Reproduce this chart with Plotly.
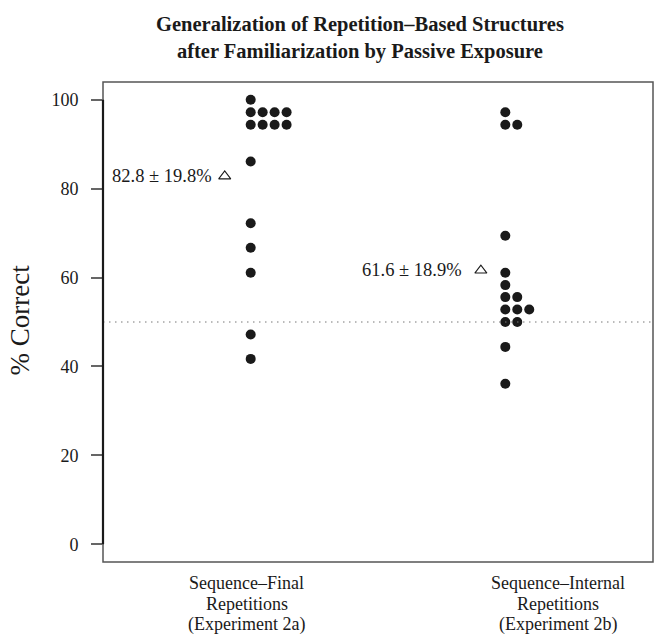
import plotly.graph_objects as go
from collections import Counter

# ---- data ----
title_lines = ["Generalization of Repetition–Based Structures",
               "after Familiarization by Passive Exposure"]
group_labels = [["Sequence–Final", "Repetitions", "(Experiment 2a)"],
                ["Sequence–Internal", "Repetitions", "(Experiment 2b)"]]
scores_2a = [100, 97.2, 97.2, 97.2, 97.2, 94.4, 94.4, 94.4, 94.4,
             86.1, 72.2, 66.7, 61.1, 47.2, 41.7]
scores_2b = [97.2, 94.4, 94.4, 69.4, 61.1, 58.3, 55.6, 55.6,
             52.8, 52.8, 52.8, 50, 50, 44.4, 36.1]
means = [82.8, 61.6]
mean_labels = ["82.8 ± 19.8%", "61.6 ± 18.9%"]
chance = 50
y_ticks = [0, 20, 40, 60, 80, 100]
y_title = "% Correct"

# ---- layout constants ----
FONT = "Liberation Serif"
INK = "#1a1a1a"
group_x = [1, 2]
dx = 0.047            # horizontal step between tied dots
tri_off = [-0.102, -0.096]
txt_off = [-0.146, -0.162]
label_x = [0.985, 2.207]
label_line_y = [-0.044, -0.0875, -0.131]   # paper coords of label lines

fig = go.Figure()

xs, ys = [], []
for gx, scores in zip(group_x, [scores_2a, scores_2b]):
    seen = Counter()
    for v in scores:
        xs.append(gx + seen[v] * dx)
        ys.append(v)
        seen[v] += 1

fig.add_trace(go.Scatter(x=xs, y=ys, mode="markers",
                         marker=dict(size=10, color=INK, line=dict(width=0)),
                         hoverinfo="skip", showlegend=False))

fig.add_trace(go.Scatter(x=[g + o for g, o in zip(group_x, tri_off)], y=means,
                         mode="markers",
                         marker=dict(symbol="triangle-up-open", size=10.5,
                                     color=INK, line=dict(width=1.1, color=INK)),
                         hoverinfo="skip", showlegend=False))

for g, o, m, lab in zip(group_x, txt_off, means, mean_labels):
    fig.add_annotation(x=g + o, y=m, text=lab, showarrow=False,
                       xanchor="right", yanchor="middle",
                       font=dict(family=FONT, size=18.5, color=INK))

for lx, lines in zip(label_x, group_labels):
    for ly, line in zip(label_line_y, lines):
        fig.add_annotation(x=lx, xref="x", y=ly, yref="paper", text=line,
                           showarrow=False, xanchor="center", yanchor="middle",
                           font=dict(family=FONT, size=18, color=INK))

fig.add_annotation(x=0.467, xref="paper", y=1.091, yref="paper",
                   text="<b>" + "<br>".join(title_lines) + "</b>",
                   showarrow=False, xanchor="center", yanchor="middle",
                   font=dict(family=FONT, size=20.5, color=INK))

fig.add_annotation(x=-0.151, xref="paper", y=0.505, yref="paper", text=y_title,
                   textangle=-90, showarrow=False, xanchor="center",
                   yanchor="middle", font=dict(family=FONT, size=27, color=INK))

# chance line
fig.add_shape(type="line", xref="paper", x0=0, x1=1, yref="y", y0=chance, y1=chance,
              line=dict(color="#777777", width=1, dash="1.5px,4.5px"))
# frame
fig.add_shape(type="rect", xref="paper", yref="paper", x0=0, x1=1, y0=0, y1=1,
              line=dict(color="#555555", width=1.5))
# y axis line
fig.add_shape(type="line", xref="paper", x0=0, x1=0, yref="y", y0=y_ticks[0],
              y1=y_ticks[-1], line=dict(color=INK, width=2.2))

fig.update_layout(
    width=655, height=643,
    margin=dict(l=103, r=2, t=82, b=81),
    paper_bgcolor="white", plot_bgcolor="white",
    xaxis=dict(range=[0.42, 2.58], showgrid=False, zeroline=False,
               showticklabels=False, ticks="", showline=False),
    yaxis=dict(range=[-4, 104], showgrid=False, zeroline=False, showline=False,
               tickvals=y_ticks, ticks="outside", ticklen=11, tickwidth=1.5,
               tickcolor="#666666", ticklabelstandoff=9,
               tickfont=dict(family=FONT, size=18, color=INK)),
    font=dict(family=FONT, color=INK),
)

fig.write_html("out.html")
